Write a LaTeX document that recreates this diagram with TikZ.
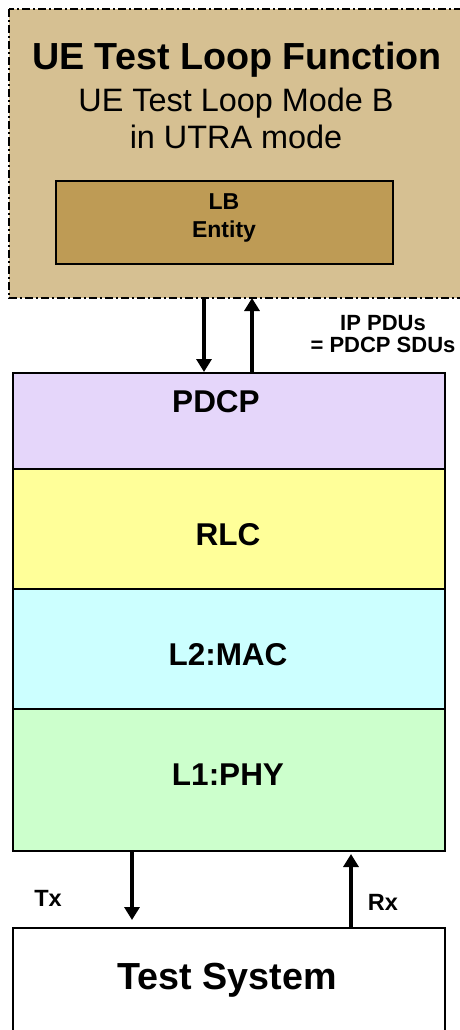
\documentclass[tikz,border=0pt]{standalone}
\usepackage{fontspec}
\setmainfont{Liberation Sans}
\usetikzlibrary{arrows.meta}
\definecolor{tanbg}{RGB}{214,192,146}
\definecolor{lbcol}{RGB}{190,155,85}
\definecolor{pdcpcol}{RGB}{229,214,250}
\definecolor{rlccol}{RGB}{255,255,153}
\definecolor{maccol}{RGB}{204,255,255}
\definecolor{phycol}{RGB}{204,255,204}
\tikzset{
  layer/.style={draw=black, line width=2pt, inner sep=0pt, anchor=north west, minimum width=432pt},
  flow/.style={line width=3.5pt, -{Triangle[length=13pt,width=15pt]}},
  big/.style={font=\fontsize{37.7}{42}\selectfont\bfseries},
  mid/.style={font=\fontsize{31.5}{36}\selectfont\bfseries},
  small/.style={font=\fontsize{22}{22}\selectfont\bfseries, align=center},
}
\begin{document}
\begin{tikzpicture}[x=1pt,y=-1pt]
\useasboundingbox (0,0) rectangle (460,1030);
\clip (0,0) rectangle (460,1030);
% outer UE test loop function box
\draw[fill=tanbg, line width=2pt, dash pattern=on 8pt off 3pt on 2pt off 3pt] (9,9.5) rectangle (475,298);
\coordinate (tlfB) at (204,298);
\coordinate (tlfC) at (252,298);
\node[big] (title) at (237,60) {UE Test Loop Function};
\node[font=\fontsize{32.4}{37}\selectfont, align=center] (sub) at (236,118.5) {UE Test Loop Mode B\\in UTRA mode};
\node[draw=black, line width=2pt, fill=lbcol, minimum width=337pt, minimum height=83pt, anchor=north west, inner sep=0pt] (lb) at (55,180) {};
\node[font=\fontsize{23}{28}\selectfont\bfseries, align=center] (lbt) at (224,218) {LB\\Entity};
% layers
\node[layer, fill=pdcpcol, minimum height=96pt] (pdcp) at (12,372) {};
\node[mid] (pdcpt) at (216,402) {PDCP};
\node[layer, fill=rlccol, minimum height=120pt] (rlc) at (12,468) {};
\node[mid] (rlct) at (228,535) {RLC};
\node[layer, fill=maccol, minimum height=120pt] (mac) at (12,588) {};
\node[mid] (mact) at (228,655) {L2:MAC};
\node[layer, fill=phycol, minimum height=142pt] (phy) at (12,708) {};
\node[mid] (phyt) at (228,775) {L1:PHY};
% test system
\node[layer, fill=white, minimum height=140pt] (ts) at (12,927) {};
\node[big] (tst) at (227,980) {Test System};
% arrows
\coordinate (pdcpB) at (204,372);
\coordinate (pdcpC) at (252,372);
\draw[flow] (tlfB) -- (pdcpB);
\draw[flow] (pdcpC) -- (tlfC);
\node[small] (iplab) at (383,334) {IP PDUs\\= PDCP SDUs};
\coordinate (phyTx) at (132,850);
\coordinate (tsTx) at (132,920);
\coordinate (tsRx) at (351,927);
\coordinate (phyRx) at (351,854);
\draw[flow] (phyTx) -- (tsTx);
\draw[flow] (tsRx) -- (phyRx);
\node[small, font=\fontsize{23.5}{24}\selectfont\bfseries] (tx) at (48,898) {Tx};
\node[small, font=\fontsize{23.5}{24}\selectfont\bfseries] (rx) at (383,902) {Rx};
\end{tikzpicture}
\end{document}
